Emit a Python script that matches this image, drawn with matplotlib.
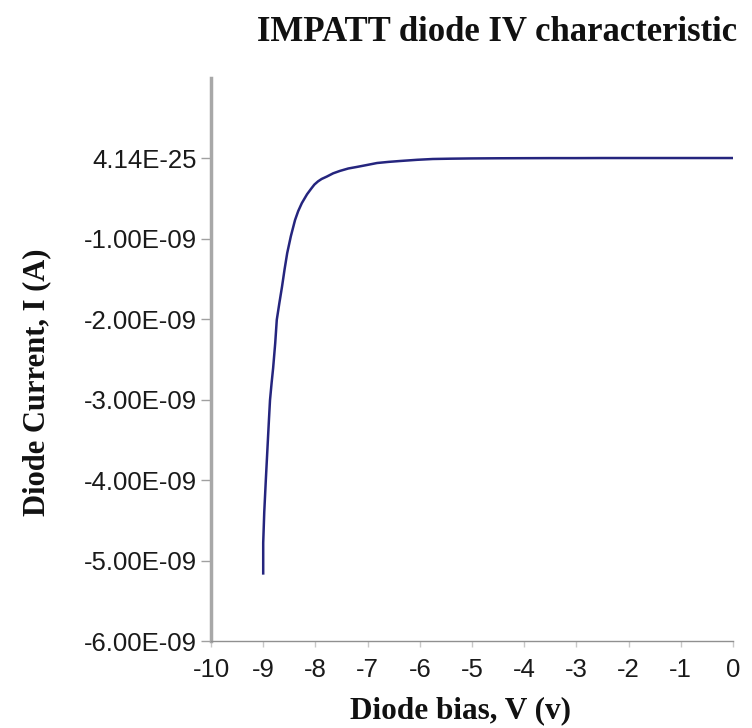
import matplotlib
matplotlib.use("Agg")
import matplotlib.pyplot as plt

# IV curve (bias in V, current in nA)
bias = [-9.00, -9.00, -8.98, -8.95, -8.93, -8.91, -8.89, -8.87, -8.84, -8.81,
        -8.77, -8.74, -8.69, -8.64, -8.59, -8.54, -8.47, -8.39, -8.33, -8.26,
        -8.16, -8.08, -8.02, -7.95, -7.88, -7.78, -7.66, -7.53,
        -7.37, -7.20, -7.00, -6.82, -6.60, -6.38, -6.05, -5.75, -5.40, -5.00,
        -4.50, -4.00, -3.50, -3.00, -2.50, -2.00, -1.50, -1.00, -0.50, 0.00]
current_na = [-5.16, -4.78, -4.40, -4.00, -3.75, -3.50, -3.25, -3.01, -2.80, -2.61,
              -2.30, -2.01, -1.80, -1.60, -1.38, -1.18, -0.97, -0.77, -0.66, -0.56,
              -0.45, -0.38, -0.33, -0.29, -0.26, -0.23, -0.19, -0.16,
              -0.13, -0.11, -0.085, -0.062, -0.048, -0.037, -0.022, -0.012, -0.008, -0.005,
              -0.003, -0.002, -0.001, -0.001, 0.0, 0.0, 0.0, 0.0, 0.0, 0.0]

xticks = list(range(-10, 1))
yticks_na = [0, -1, -2, -3, -4, -5, -6]
ytick_labels = ["4.14E-25", "-1.00E-09", "-2.00E-09", "-3.00E-09",
                "-4.00E-09", "-5.00E-09", "-6.00E-09"]

current = [c * 1e-9 for c in current_na]
yticks = [t * 1e-9 for t in yticks_na]

fig = plt.figure(figsize=(7.52, 7.28), dpi=100)
ax = fig.add_axes([0.2806, 0.1195, 0.6941, 0.774])

ax.plot(bias, current, color="#25257e", lw=1.8)

ax.set_xlim(-10, 0)
ax.set_ylim(-6e-9, 1e-9)
ax.set_xticks(xticks)
ax.set_xticklabels([str(t) for t in xticks])
ax.set_yticks(yticks)
ax.set_yticklabels(ytick_labels)

for s in ["top", "right"]:
    ax.spines[s].set_visible(False)
ax.spines["left"].set_color("#a8a8a8")
ax.spines["left"].set_linewidth(2.5)
ax.spines["bottom"].set_color("#909090")
ax.spines["bottom"].set_linewidth(1.0)

ax.tick_params(axis="y", direction="out", length=7, width=1, color="#a0a0a0", pad=3)
ax.tick_params(axis="x", direction="out", length=4, width=1, color="#c8c8c8", pad=8)
for lbl in ax.get_xticklabels() + ax.get_yticklabels():
    lbl.set_fontfamily("Liberation Sans")
    lbl.set_fontsize(18.5)
    lbl.set_color("#1a1a1a")

serif = dict(family="Liberation Serif", weight="bold", color="#111111")
fig.text(0.661, 0.955, "IMPATT diode IV characteristic", ha="center", va="center",
         fontsize=25, **serif)
fig.text(0.613, 0.024, "Diode bias, V (v)", ha="center", va="center",
         fontsize=22.5, **serif)
fig.text(0.049, 0.475, "Diode Current, I (A)", ha="center", va="center",
         rotation=90, fontsize=22, **serif)

fig.savefig("out.png", dpi=100)
